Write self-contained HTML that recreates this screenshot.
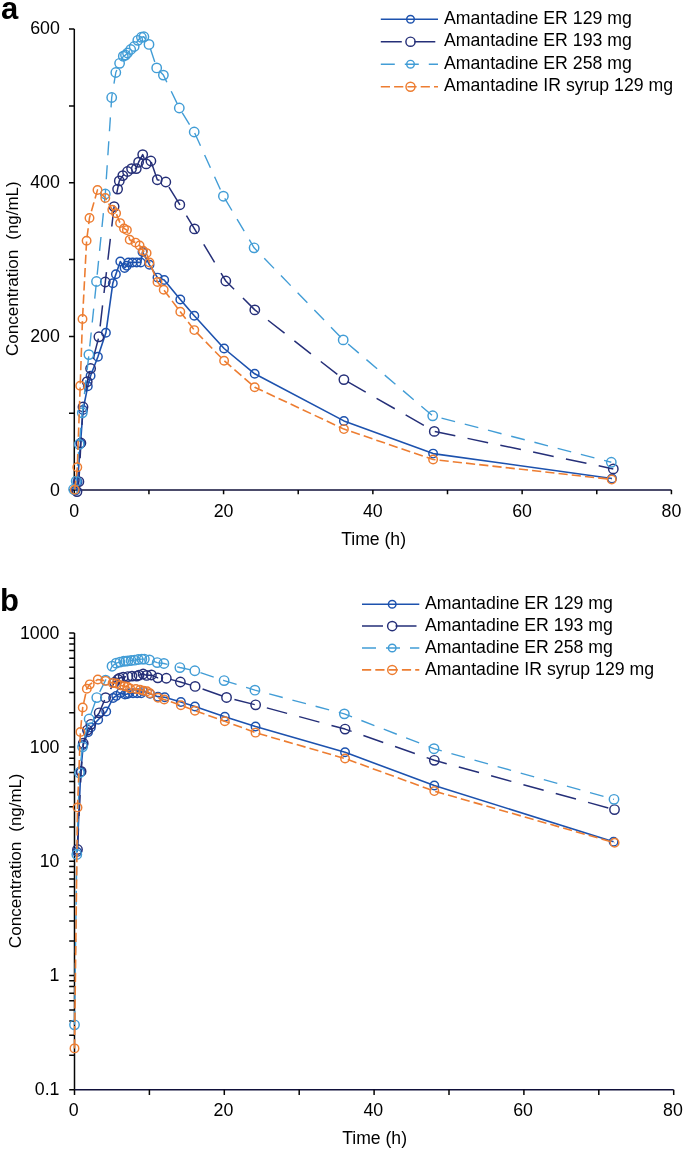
<!DOCTYPE html><html><head><meta charset="utf-8"><style>html,body{margin:0;padding:0;background:#fff;width:685px;height:1151px;overflow:hidden}svg{display:block;will-change:transform}text{font-family:"Liberation Sans",sans-serif;fill:#000}</style></head><body>
<svg width="685" height="1151" viewBox="0 0 685 1151">
<text x="1" y="18.6" style="font-size:31px;font-weight:bold">a</text>
<path d="M74.3,29.05 V490.07" fill="none" stroke="#050505" stroke-width="1.5"/><path d="M74.3,490.07 H671.4" fill="none" stroke="#10103a" stroke-width="1.5"/>
<path d="M69,490.07 H74.3 M69,413.23 H74.3 M69,336.40 H74.3 M69,259.56 H74.3 M69,182.72 H74.3 M69,105.88 H74.3 M69,29.05 H74.3 M74.30,490.07 V494.3 M148.94,490.07 V494.3 M223.58,490.07 V494.3 M298.22,490.07 V494.3 M372.86,490.07 V494.3 M447.50,490.07 V494.3 M522.14,490.07 V494.3 M596.78,490.07 V494.3 M671.42,490.07 V494.3 " fill="none" stroke="#050505" stroke-width="1.5"/>
<text x="59.8" y="34.1" text-anchor="end" style="font-size:17.8px">600</text>
<text x="59.8" y="188.1" text-anchor="end" style="font-size:17.8px">400</text>
<text x="59.8" y="341.6" text-anchor="end" style="font-size:17.8px">200</text>
<text x="59.8" y="495.7" text-anchor="end" style="font-size:17.8px">0</text>
<text x="74.30" y="516.9" text-anchor="middle" style="font-size:17.8px">0</text>
<text x="223.58" y="516.9" text-anchor="middle" style="font-size:17.8px">20</text>
<text x="372.86" y="516.9" text-anchor="middle" style="font-size:17.8px">40</text>
<text x="522.14" y="516.9" text-anchor="middle" style="font-size:17.8px">60</text>
<text x="671.42" y="516.9" text-anchor="middle" style="font-size:17.8px">80</text>
<text x="373.6" y="544.7" text-anchor="middle" style="font-size:17.6px">Time (h)</text>
<text transform="translate(18.4,356.00) rotate(-90)" textLength="106.30" lengthAdjust="spacingAndGlyphs" style="font-size:17.1px">Concentration</text><text transform="translate(18.4,239.70) rotate(-90)" textLength="58.40" lengthAdjust="spacingAndGlyphs" style="font-size:17.4px">(ng/mL)</text>
<g stroke="#1D52AE" fill="none" stroke-width="1.45"><path d="M75.60,490.40 L77.50,482.00 L80.50,443.50 L83.00,410.00 L87.80,386.20 L90.60,375.80 L97.90,356.70 L105.90,332.80 L112.80,283.30 L115.90,274.20 L120.30,261.50 L124.60,268.00 L126.80,265.80 L128.50,262.40 L132.60,262.40 L136.70,262.40 L140.80,262.40 L142.50,251.90 L149.50,264.80 L157.50,277.60 L164.20,280.00 L180.30,299.40 L194.30,315.70 L224.10,348.50 L254.70,373.80 L343.90,420.90 L433.10,453.60 L612.00,478.50" stroke-width="1.6" stroke-linejoin="round"/>
<circle cx="75.60" cy="490.40" r="4.25"/><circle cx="77.50" cy="482.00" r="4.25"/><circle cx="80.50" cy="443.50" r="4.25"/><circle cx="83.00" cy="410.00" r="4.25"/><circle cx="87.80" cy="386.20" r="4.25"/><circle cx="90.60" cy="375.80" r="4.25"/><circle cx="97.90" cy="356.70" r="4.25"/><circle cx="105.90" cy="332.80" r="4.25"/><circle cx="112.80" cy="283.30" r="4.25"/><circle cx="115.90" cy="274.20" r="4.25"/><circle cx="120.30" cy="261.50" r="4.25"/><circle cx="124.60" cy="268.00" r="4.25"/><circle cx="126.80" cy="265.80" r="4.25"/><circle cx="128.50" cy="262.40" r="4.25"/><circle cx="132.60" cy="262.40" r="4.25"/><circle cx="136.70" cy="262.40" r="4.25"/><circle cx="140.80" cy="262.40" r="4.25"/><circle cx="142.50" cy="251.90" r="4.25"/><circle cx="149.50" cy="264.80" r="4.25"/><circle cx="157.50" cy="277.60" r="4.25"/><circle cx="164.20" cy="280.00" r="4.25"/><circle cx="180.30" cy="299.40" r="4.25"/><circle cx="194.30" cy="315.70" r="4.25"/><circle cx="224.10" cy="348.50" r="4.25"/><circle cx="254.70" cy="373.80" r="4.25"/><circle cx="343.90" cy="420.90" r="4.25"/><circle cx="433.10" cy="453.60" r="4.25"/><circle cx="612.00" cy="478.50" r="4.25"/></g>

<g stroke="#252F78" fill="none" stroke-width="1.45"><path d="M77.00,491.60 L78.90,481.70 L80.90,443.00 L83.00,407.00 L87.20,381.70 L90.60,368.50 L98.90,336.80 L105.30,282.00 L114.10,206.60 L117.60,189.10 L119.30,180.90 L122.80,175.60 L127.50,171.50 L131.60,168.60 L136.30,168.60 L138.60,162.20 L142.70,154.60 L146.20,163.90 L150.90,161.00 L157.30,179.70 L165.80,182.00 L179.80,204.70 L194.50,228.90 L225.80,281.00 L254.80,309.90 L343.90,379.60 L434.30,431.40 L613.30,468.90" stroke-width="1.5" stroke-linejoin="round" stroke-dasharray="21 12.5"/>
<circle cx="77.00" cy="491.60" r="4.7"/><circle cx="78.90" cy="481.70" r="4.7"/><circle cx="80.90" cy="443.00" r="4.7"/><circle cx="83.00" cy="407.00" r="4.7"/><circle cx="87.20" cy="381.70" r="4.7"/><circle cx="90.60" cy="368.50" r="4.7"/><circle cx="98.90" cy="336.80" r="4.7"/><circle cx="105.30" cy="282.00" r="4.7"/><circle cx="114.10" cy="206.60" r="4.7"/><circle cx="117.60" cy="189.10" r="4.7"/><circle cx="119.30" cy="180.90" r="4.7"/><circle cx="122.80" cy="175.60" r="4.7"/><circle cx="127.50" cy="171.50" r="4.7"/><circle cx="131.60" cy="168.60" r="4.7"/><circle cx="136.30" cy="168.60" r="4.7"/><circle cx="138.60" cy="162.20" r="4.7"/><circle cx="142.70" cy="154.60" r="4.7"/><circle cx="146.20" cy="163.90" r="4.7"/><circle cx="150.90" cy="161.00" r="4.7"/><circle cx="157.30" cy="179.70" r="4.7"/><circle cx="165.80" cy="182.00" r="4.7"/><circle cx="179.80" cy="204.70" r="4.7"/><circle cx="194.50" cy="228.90" r="4.7"/><circle cx="225.80" cy="281.00" r="4.7"/><circle cx="254.80" cy="309.90" r="4.7"/><circle cx="343.90" cy="379.60" r="4.7"/><circle cx="434.30" cy="431.40" r="4.7"/><circle cx="613.30" cy="468.90" r="4.7"/></g>

<g stroke="#429DD6" fill="none" stroke-width="1.45"><path d="M73.60,489.30 L76.20,481.20 L79.20,444.30 L82.30,412.80 L88.90,354.60 L96.50,281.50 L105.30,194.00 L111.70,97.50 L115.80,72.50 L119.60,63.30 L123.30,56.20 L125.50,55.10 L127.50,53.00 L130.70,49.50 L134.20,46.50 L137.80,40.30 L141.40,37.30 L143.90,36.80 L149.00,44.40 L156.70,67.90 L163.40,75.10 L179.30,108.00 L194.20,132.00 L223.40,196.20 L254.10,247.80 L343.20,339.90 L432.70,415.80 L611.30,462.30" stroke-width="1.4" stroke-linejoin="round" stroke-dasharray="14 10"/>
<circle cx="73.60" cy="489.30" r="4.7"/><circle cx="76.20" cy="481.20" r="4.7"/><circle cx="79.20" cy="444.30" r="4.7"/><circle cx="82.30" cy="412.80" r="4.7"/><circle cx="88.90" cy="354.60" r="4.7"/><circle cx="96.50" cy="281.50" r="4.7"/><circle cx="105.30" cy="194.00" r="4.7"/><circle cx="111.70" cy="97.50" r="4.7"/><circle cx="115.80" cy="72.50" r="4.7"/><circle cx="119.60" cy="63.30" r="4.7"/><circle cx="123.30" cy="56.20" r="4.7"/><circle cx="125.50" cy="55.10" r="4.7"/><circle cx="127.50" cy="53.00" r="4.7"/><circle cx="130.70" cy="49.50" r="4.7"/><circle cx="134.20" cy="46.50" r="4.7"/><circle cx="137.80" cy="40.30" r="4.7"/><circle cx="141.40" cy="37.30" r="4.7"/><circle cx="143.90" cy="36.80" r="4.7"/><circle cx="149.00" cy="44.40" r="4.7"/><circle cx="156.70" cy="67.90" r="4.7"/><circle cx="163.40" cy="75.10" r="4.7"/><circle cx="179.30" cy="108.00" r="4.7"/><circle cx="194.20" cy="132.00" r="4.7"/><circle cx="223.40" cy="196.20" r="4.7"/><circle cx="254.10" cy="247.80" r="4.7"/><circle cx="343.20" cy="339.90" r="4.7"/><circle cx="432.70" cy="415.80" r="4.7"/><circle cx="611.30" cy="462.30" r="4.7"/></g>

<g stroke="#ED7D31" fill="none" stroke-width="1.45"><path d="M74.75,489.70 L77.30,467.30 L80.20,385.80 L82.50,319.00 L86.60,240.70 L89.50,217.90 L97.50,189.90 L105.30,198.00 L112.30,209.70 L116.10,213.20 L120.10,223.10 L124.00,228.40 L126.90,230.10 L129.70,239.70 L135.50,242.60 L139.60,245.50 L143.10,250.80 L146.60,253.10 L149.50,262.40 L157.50,281.90 L163.70,289.80 L180.30,311.70 L194.30,330.10 L224.10,360.70 L254.70,387.20 L343.90,429.10 L433.10,459.50 L611.70,479.40" stroke-width="1.6" stroke-linejoin="round" stroke-dasharray="9.2 4.1"/>
<circle cx="74.75" cy="489.70" r="4.25"/><circle cx="77.30" cy="467.30" r="4.25"/><circle cx="80.20" cy="385.80" r="4.25"/><circle cx="82.50" cy="319.00" r="4.25"/><circle cx="86.60" cy="240.70" r="4.25"/><circle cx="89.50" cy="217.90" r="4.25"/><circle cx="97.50" cy="189.90" r="4.25"/><circle cx="105.30" cy="198.00" r="4.25"/><circle cx="112.30" cy="209.70" r="4.25"/><circle cx="116.10" cy="213.20" r="4.25"/><circle cx="120.10" cy="223.10" r="4.25"/><circle cx="124.00" cy="228.40" r="4.25"/><circle cx="126.90" cy="230.10" r="4.25"/><circle cx="129.70" cy="239.70" r="4.25"/><circle cx="135.50" cy="242.60" r="4.25"/><circle cx="139.60" cy="245.50" r="4.25"/><circle cx="143.10" cy="250.80" r="4.25"/><circle cx="146.60" cy="253.10" r="4.25"/><circle cx="149.50" cy="262.40" r="4.25"/><circle cx="157.50" cy="281.90" r="4.25"/><circle cx="163.70" cy="289.80" r="4.25"/><circle cx="180.30" cy="311.70" r="4.25"/><circle cx="194.30" cy="330.10" r="4.25"/><circle cx="224.10" cy="360.70" r="4.25"/><circle cx="254.70" cy="387.20" r="4.25"/><circle cx="343.90" cy="429.10" r="4.25"/><circle cx="433.10" cy="459.50" r="4.25"/><circle cx="611.70" cy="479.40" r="4.25"/></g>

<path d="M380.8,19.20 H438" stroke="#1D52AE" stroke-width="1.6" fill="none"/><circle cx="410.5" cy="19.20" r="3.8" fill="none" stroke="#1D52AE" stroke-width="1.45"/><text x="444" y="23.90" style="font-size:17.7px">Amantadine ER 129 mg</text>
<path d="M380.8,41.70 H438" stroke="#252F78" stroke-width="1.5" fill="none" stroke-dasharray="21 12.5"/><circle cx="410.5" cy="41.70" r="4.6" fill="none" stroke="#252F78" stroke-width="1.45"/><text x="444" y="46.40" style="font-size:17.7px">Amantadine ER 193 mg</text>
<path d="M380.8,64.20 H438" stroke="#429DD6" stroke-width="1.4" fill="none" stroke-dasharray="14 10"/><circle cx="410.5" cy="64.20" r="3.8" fill="none" stroke="#429DD6" stroke-width="1.45"/><text x="444" y="68.90" style="font-size:17.7px">Amantadine ER 258 mg</text>
<path d="M380.8,86.70 H438" stroke="#ED7D31" stroke-width="1.6" fill="none" stroke-dasharray="9.2 4.1"/><circle cx="410.5" cy="86.70" r="4.5" fill="none" stroke="#ED7D31" stroke-width="1.45"/><text x="444" y="91.40" style="font-size:17.7px">Amantadine IR syrup 129 mg</text>

<text x="-0.1" y="611" style="font-size:31px;font-weight:bold">b</text>
<path d="M74.5,632.90 V1089.70" fill="none" stroke="#050505" stroke-width="1.5"/><path d="M74.5,1089.70 H673.6" fill="none" stroke="#10103a" stroke-width="1.5"/>
<path d="M69.2,1089.70 H74.5 M69.2,1055.32 H74.5 M69.2,1035.21 H74.5 M69.2,1020.94 H74.5 M69.2,1009.88 H74.5 M69.2,1000.84 H74.5 M69.2,993.19 H74.5 M69.2,986.57 H74.5 M69.2,980.73 H74.5 M69.2,975.50 H74.5 M69.2,941.12 H74.5 M69.2,921.01 H74.5 M69.2,906.74 H74.5 M69.2,895.68 H74.5 M69.2,886.64 H74.5 M69.2,878.99 H74.5 M69.2,872.37 H74.5 M69.2,866.53 H74.5 M69.2,861.30 H74.5 M69.2,826.92 H74.5 M69.2,806.81 H74.5 M69.2,792.54 H74.5 M69.2,781.48 H74.5 M69.2,772.44 H74.5 M69.2,764.79 H74.5 M69.2,758.17 H74.5 M69.2,752.33 H74.5 M69.2,747.10 H74.5 M69.2,712.72 H74.5 M69.2,692.61 H74.5 M69.2,678.34 H74.5 M69.2,667.28 H74.5 M69.2,658.24 H74.5 M69.2,650.59 H74.5 M69.2,643.97 H74.5 M69.2,638.13 H74.5 M69.2,632.90 H74.5 M74.50,1089.70 V1094.90 M149.40,1089.70 V1094.90 M224.30,1089.70 V1094.90 M299.20,1089.70 V1094.90 M374.10,1089.70 V1094.90 M449.00,1089.70 V1094.90 M523.90,1089.70 V1094.90 M598.80,1089.70 V1094.90 M673.70,1089.70 V1094.90 " fill="none" stroke="#050505" stroke-width="1.5"/>
<text x="59.5" y="638.50" text-anchor="end" style="font-size:17.8px">1000</text>
<text x="59.5" y="752.70" text-anchor="end" style="font-size:17.8px">100</text>
<text x="59.5" y="866.90" text-anchor="end" style="font-size:17.8px">10</text>
<text x="59.5" y="981.10" text-anchor="end" style="font-size:17.8px">1</text>
<text x="59.5" y="1095.30" text-anchor="end" style="font-size:17.8px">0.1</text>
<text x="73.70" y="1115.9" text-anchor="middle" style="font-size:17.8px">0</text>
<text x="223.50" y="1115.9" text-anchor="middle" style="font-size:17.8px">20</text>
<text x="373.30" y="1115.9" text-anchor="middle" style="font-size:17.8px">40</text>
<text x="523.10" y="1115.9" text-anchor="middle" style="font-size:17.8px">60</text>
<text x="672.90" y="1115.9" text-anchor="middle" style="font-size:17.8px">80</text>
<text x="374.6" y="1143.7" text-anchor="middle" style="font-size:17.6px">Time (h)</text>
<text transform="translate(21.3,948.20) rotate(-90)" textLength="106.50" lengthAdjust="spacingAndGlyphs" style="font-size:17.1px">Concentration</text><text transform="translate(21.3,831.70) rotate(-90)" textLength="58.20" lengthAdjust="spacingAndGlyphs" style="font-size:17.4px">(ng/mL)</text>
<g stroke="#1D52AE" fill="none" stroke-width="1.45"><path d="M77.20,852.00 L80.72,771.93 L83.23,745.06 L88.05,732.15 L90.86,727.42 L98.18,719.75 L106.21,711.58 L113.13,698.00 L116.24,695.87 L120.66,693.03 L124.98,694.46 L127.18,693.97 L128.89,693.23 L133.00,693.23 L137.12,693.23 L141.23,693.23 L142.94,690.99 L149.96,693.75 L157.99,696.65 L164.71,697.22 L180.87,702.02 L194.92,706.46 L224.82,716.79 L255.53,726.56 L345.04,752.31 L434.30,785.50 L613.60,841.80" stroke-width="1.6" stroke-linejoin="round"/>
<circle cx="77.20" cy="852.00" r="4.25"/><circle cx="80.72" cy="771.93" r="4.25"/><circle cx="83.23" cy="745.06" r="4.25"/><circle cx="88.05" cy="732.15" r="4.25"/><circle cx="90.86" cy="727.42" r="4.25"/><circle cx="98.18" cy="719.75" r="4.25"/><circle cx="106.21" cy="711.58" r="4.25"/><circle cx="113.13" cy="698.00" r="4.25"/><circle cx="116.24" cy="695.87" r="4.25"/><circle cx="120.66" cy="693.03" r="4.25"/><circle cx="124.98" cy="694.46" r="4.25"/><circle cx="127.18" cy="693.97" r="4.25"/><circle cx="128.89" cy="693.23" r="4.25"/><circle cx="133.00" cy="693.23" r="4.25"/><circle cx="137.12" cy="693.23" r="4.25"/><circle cx="141.23" cy="693.23" r="4.25"/><circle cx="142.94" cy="690.99" r="4.25"/><circle cx="149.96" cy="693.75" r="4.25"/><circle cx="157.99" cy="696.65" r="4.25"/><circle cx="164.71" cy="697.22" r="4.25"/><circle cx="180.87" cy="702.02" r="4.25"/><circle cx="194.92" cy="706.46" r="4.25"/><circle cx="224.82" cy="716.79" r="4.25"/><circle cx="255.53" cy="726.56" r="4.25"/><circle cx="345.04" cy="752.31" r="4.25"/><circle cx="434.30" cy="785.50" r="4.25"/><circle cx="613.60" cy="841.80" r="4.25"/></g>

<g stroke="#252F78" fill="none" stroke-width="1.45"><path d="M77.50,849.50 L81.12,771.40 L83.23,743.23 L87.44,730.05 L90.86,724.34 L99.19,712.85 L105.61,697.69 L114.44,682.36 L117.95,679.38 L119.66,678.05 L123.17,677.21 L127.89,676.57 L132.00,676.12 L136.72,676.12 L139.02,675.14 L143.14,674.00 L146.65,675.40 L151.37,674.96 L157.79,677.86 L166.32,678.23 L180.37,682.02 L195.12,686.42 L226.53,697.45 L255.63,704.83 L345.04,729.09 L434.30,760.30 L614.50,809.60" stroke-width="1.5" stroke-linejoin="round" stroke-dasharray="21 12.5"/>
<circle cx="77.50" cy="849.50" r="4.7"/><circle cx="81.12" cy="771.40" r="4.7"/><circle cx="83.23" cy="743.23" r="4.7"/><circle cx="87.44" cy="730.05" r="4.7"/><circle cx="90.86" cy="724.34" r="4.7"/><circle cx="99.19" cy="712.85" r="4.7"/><circle cx="105.61" cy="697.69" r="4.7"/><circle cx="114.44" cy="682.36" r="4.7"/><circle cx="117.95" cy="679.38" r="4.7"/><circle cx="119.66" cy="678.05" r="4.7"/><circle cx="123.17" cy="677.21" r="4.7"/><circle cx="127.89" cy="676.57" r="4.7"/><circle cx="132.00" cy="676.12" r="4.7"/><circle cx="136.72" cy="676.12" r="4.7"/><circle cx="139.02" cy="675.14" r="4.7"/><circle cx="143.14" cy="674.00" r="4.7"/><circle cx="146.65" cy="675.40" r="4.7"/><circle cx="151.37" cy="674.96" r="4.7"/><circle cx="157.79" cy="677.86" r="4.7"/><circle cx="166.32" cy="678.23" r="4.7"/><circle cx="180.37" cy="682.02" r="4.7"/><circle cx="195.12" cy="686.42" r="4.7"/><circle cx="226.53" cy="697.45" r="4.7"/><circle cx="255.63" cy="704.83" r="4.7"/><circle cx="345.04" cy="729.09" r="4.7"/><circle cx="434.30" cy="760.30" r="4.7"/><circle cx="614.50" cy="809.60" r="4.7"/></g>

<g stroke="#429DD6" fill="none" stroke-width="1.45"><path d="M74.50,1024.81 L76.80,854.50 L79.42,772.79 L82.53,746.82 L89.15,718.98 L96.78,697.57 L105.61,680.20 L112.03,666.21 L116.14,663.14 L119.96,662.06 L123.67,661.25 L125.88,661.12 L127.89,660.88 L131.10,660.49 L134.61,660.15 L138.22,659.46 L141.83,659.13 L144.34,659.08 L149.46,659.91 L157.19,662.60 L163.91,663.45 L179.87,667.55 L194.82,670.77 L224.12,680.57 L254.93,690.15 L344.34,713.87 L434.00,748.70 L614.00,799.30" stroke-width="1.4" stroke-linejoin="round" stroke-dasharray="14 10"/>
<circle cx="74.50" cy="1024.81" r="4.7"/><circle cx="76.80" cy="854.50" r="4.7"/><circle cx="79.42" cy="772.79" r="4.7"/><circle cx="82.53" cy="746.82" r="4.7"/><circle cx="89.15" cy="718.98" r="4.7"/><circle cx="96.78" cy="697.57" r="4.7"/><circle cx="105.61" cy="680.20" r="4.7"/><circle cx="112.03" cy="666.21" r="4.7"/><circle cx="116.14" cy="663.14" r="4.7"/><circle cx="119.96" cy="662.06" r="4.7"/><circle cx="123.67" cy="661.25" r="4.7"/><circle cx="125.88" cy="661.12" r="4.7"/><circle cx="127.89" cy="660.88" r="4.7"/><circle cx="131.10" cy="660.49" r="4.7"/><circle cx="134.61" cy="660.15" r="4.7"/><circle cx="138.22" cy="659.46" r="4.7"/><circle cx="141.83" cy="659.13" r="4.7"/><circle cx="144.34" cy="659.08" r="4.7"/><circle cx="149.46" cy="659.91" r="4.7"/><circle cx="157.19" cy="662.60" r="4.7"/><circle cx="163.91" cy="663.45" r="4.7"/><circle cx="179.87" cy="667.55" r="4.7"/><circle cx="194.82" cy="670.77" r="4.7"/><circle cx="224.12" cy="680.57" r="4.7"/><circle cx="254.93" cy="690.15" r="4.7"/><circle cx="344.34" cy="713.87" r="4.7"/><circle cx="434.00" cy="748.70" r="4.7"/><circle cx="614.00" cy="799.30" r="4.7"/></g>

<g stroke="#ED7D31" fill="none" stroke-width="1.45"><path d="M74.50,1048.39 L77.51,807.42 L80.42,731.96 L82.73,707.40 L86.84,688.71 L89.75,684.37 L97.78,679.52 L105.61,680.87 L112.63,682.90 L116.45,683.52 L120.46,685.33 L124.37,686.32 L127.28,686.65 L130.09,688.51 L135.91,689.09 L140.03,689.68 L143.54,690.76 L147.05,691.24 L149.96,693.23 L157.99,697.67 L164.21,699.59 L180.87,705.33 L194.92,710.73 L224.82,721.26 L255.53,732.63 L345.04,758.57 L434.30,791.10 L614.60,842.75" stroke-width="1.6" stroke-linejoin="round" stroke-dasharray="9.2 4.1"/>
<circle cx="74.50" cy="1048.39" r="4.25"/><circle cx="77.51" cy="807.42" r="4.25"/><circle cx="80.42" cy="731.96" r="4.25"/><circle cx="82.73" cy="707.40" r="4.25"/><circle cx="86.84" cy="688.71" r="4.25"/><circle cx="89.75" cy="684.37" r="4.25"/><circle cx="97.78" cy="679.52" r="4.25"/><circle cx="105.61" cy="680.87" r="4.25"/><circle cx="112.63" cy="682.90" r="4.25"/><circle cx="116.45" cy="683.52" r="4.25"/><circle cx="120.46" cy="685.33" r="4.25"/><circle cx="124.37" cy="686.32" r="4.25"/><circle cx="127.28" cy="686.65" r="4.25"/><circle cx="130.09" cy="688.51" r="4.25"/><circle cx="135.91" cy="689.09" r="4.25"/><circle cx="140.03" cy="689.68" r="4.25"/><circle cx="143.54" cy="690.76" r="4.25"/><circle cx="147.05" cy="691.24" r="4.25"/><circle cx="149.96" cy="693.23" r="4.25"/><circle cx="157.99" cy="697.67" r="4.25"/><circle cx="164.21" cy="699.59" r="4.25"/><circle cx="180.87" cy="705.33" r="4.25"/><circle cx="194.92" cy="710.73" r="4.25"/><circle cx="224.82" cy="721.26" r="4.25"/><circle cx="255.53" cy="732.63" r="4.25"/><circle cx="345.04" cy="758.57" r="4.25"/><circle cx="434.30" cy="791.10" r="4.25"/><circle cx="614.60" cy="842.75" r="4.25"/></g>

<path d="M362,604.20 H419.3" stroke="#1D52AE" stroke-width="1.6" fill="none"/><circle cx="392.2" cy="604.20" r="3.8" fill="none" stroke="#1D52AE" stroke-width="1.45"/><text x="425" y="608.90" style="font-size:17.7px">Amantadine ER 129 mg</text>
<path d="M362,626.10 H419.3" stroke="#252F78" stroke-width="1.5" fill="none" stroke-dasharray="21 12.5"/><circle cx="392.2" cy="626.10" r="4.6" fill="none" stroke="#252F78" stroke-width="1.45"/><text x="425" y="630.80" style="font-size:17.7px">Amantadine ER 193 mg</text>
<path d="M362,648.00 H419.3" stroke="#429DD6" stroke-width="1.4" fill="none" stroke-dasharray="14 10"/><circle cx="392.2" cy="648.00" r="3.8" fill="none" stroke="#429DD6" stroke-width="1.45"/><text x="425" y="652.70" style="font-size:17.7px">Amantadine ER 258 mg</text>
<path d="M362,669.90 H419.3" stroke="#ED7D31" stroke-width="1.6" fill="none" stroke-dasharray="9.2 4.1"/><circle cx="392.2" cy="669.90" r="4.5" fill="none" stroke="#ED7D31" stroke-width="1.45"/><text x="425" y="674.60" style="font-size:17.7px">Amantadine IR syrup 129 mg</text>

</svg></body></html>
